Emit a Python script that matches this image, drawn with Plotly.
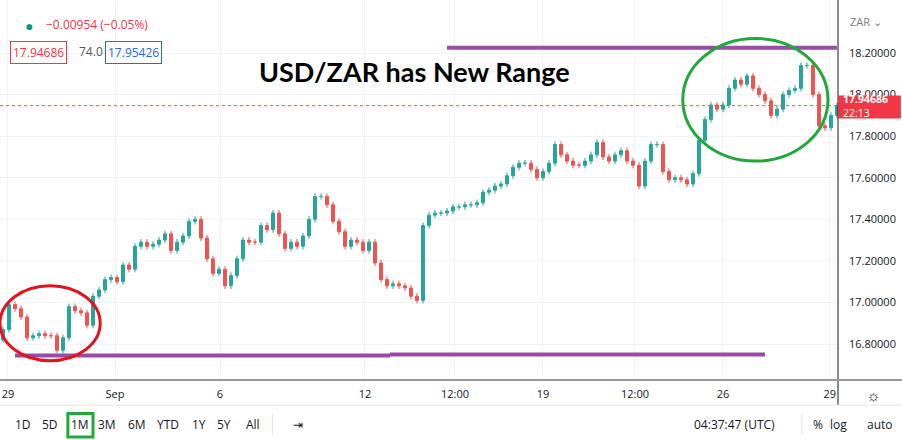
import plotly.graph_objects as go

# closes, one candle every ~6px
closes = [16.87, 16.99, 16.97, 16.93, 16.83, 16.84, 16.85, 16.84, 16.84, 16.77,
          16.83, 16.98, 16.96, 16.95, 16.89, 17.03, 17.06, 17.11, 17.12, 17.10,
          17.18, 17.16, 17.27, 17.29, 17.27, 17.28, 17.30, 17.33, 17.25, 17.29,
          17.32, 17.39, 17.40, 17.31, 17.21, 17.14, 17.16, 17.08, 17.13, 17.21,
          17.30, 17.29, 17.29, 17.37, 17.35, 17.43, 17.33, 17.26, 17.29, 17.27,
          17.32, 17.40, 17.51, 17.51, 17.47, 17.39, 17.34, 17.27, 17.30, 17.29,
          17.25, 17.29, 17.19, 17.11, 17.08, 17.09, 17.08, 17.07, 17.03, 17.01,
          17.37, 17.42, 17.43, 17.43, 17.44, 17.46, 17.46, 17.47, 17.47, 17.48,
          17.53, 17.54, 17.56, 17.57, 17.61, 17.65, 17.67, 17.67, 17.64, 17.60,
          17.63, 17.67, 17.76, 17.71, 17.68, 17.66, 17.66, 17.68, 17.71, 17.77,
          17.70, 17.68, 17.71, 17.73, 17.68, 17.66, 17.56, 17.68, 17.76, 17.76,
          17.63, 17.59, 17.60, 17.59, 17.57, 17.62, 17.78, 17.88, 17.95, 17.93,
          17.95, 18.03, 18.07, 18.05, 18.09, 18.03, 18.00, 17.97, 17.90, 17.93,
          18.00, 18.02, 18.03, 18.14, 18.14, 18.00, 17.85, 17.84, 17.90, 17.94686]
first_open = 16.82
wick = 0.015

tick_pos = [0.83, 18.67, 36.17, 60.33, 75.33, 90, 105.33, 120, 137.8]
tick_text = ["29", "Sep", "6", "12", "12:00", "19", "12:00", "26", "29"]
price_ticks = [16.8, 17.0, 17.2, 17.4, 17.6, 17.8, 18.0, 18.2]
last_price = 17.94686

# drawn range lines: (x0, x1, y)
range_lines = [(74, 139, 18.225), (2, 64.5, 16.745), (64.5, 127, 16.75)]

x = list(range(len(closes)))
opens = [first_open] + closes[:-1]
highs = [max(o, c) + wick for o, c in zip(opens, closes)]
lows = [min(o, c) - wick for o, c in zip(opens, closes)]

fig = go.Figure(go.Candlestick(
    x=x, open=opens, high=highs, low=lows, close=closes,
    increasing=dict(line=dict(color="#26a69a", width=1), fillcolor="#26a69a"),
    decreasing=dict(line=dict(color="#ef5350", width=1), fillcolor="#ef5350"),
    whiskerwidth=0, showlegend=False, hoverinfo="skip"))

shapes = []
for x0, x1, y in range_lines:
    shapes.append(dict(type="line", xref="x", yref="y", x0=x0, x1=x1, y0=y, y1=y,
                       line=dict(color="#9a4ba6", width=4)))
shapes += [
    dict(type="line", xref="paper", yref="y", x0=0, x1=1, y0=last_price, y1=last_price,
         line=dict(color="#ef5350", width=1, dash="dot")),
    dict(type="circle", xref="x", yref="y", x0=-0.5, x1=16.2, y0=16.72, y1=17.08,
         line=dict(color="#e0141e", width=3)),
    dict(type="circle", xref="x", yref="y", x0=113.3, x1=137.5, y0=17.68, y1=18.27,
         line=dict(color="#22a83a", width=3)),
    dict(type="line", xref="paper", yref="paper", x0=1, x1=1, y0=-0.066, y1=1,
         line=dict(color="#131722", width=1)),
    dict(type="line", xref="paper", yref="paper", x0=0, x1=1.077, y0=0, y1=0,
         line=dict(color="#9598a1", width=2)),
    dict(type="line", xref="paper", yref="paper", x0=0, x1=1.077, y0=-0.066, y1=-0.066,
         line=dict(color="#e0e3eb", width=1)),
    dict(type="line", xref="paper", yref="paper", x0=0.325, x1=0.325, y0=-0.09, y1=-0.145,
         line=dict(color="#e0e3eb", width=1)),
    dict(type="line", xref="paper", yref="paper", x0=0.957, x1=0.957, y0=-0.09, y1=-0.145,
         line=dict(color="#e0e3eb", width=1)),
    dict(type="rect", xref="paper", yref="y", x0=1.0, x1=1.075, y0=17.885, y1=17.995,
         fillcolor="#f23645", line=dict(width=0)),
    dict(type="rect", xref="paper", yref="paper", x0=0.081, x1=0.111, y0=-0.088, y1=-0.15,
         fillcolor="rgba(0,0,0,0)", line=dict(color="#22a83a", width=3)),
]

ann = [
    dict(x=0.495, y=18.11, xref="paper", yref="y", text="<b>USD/ZAR has New Range</b>",
         showarrow=False, font=dict(size=27, color="#000", family="Lato")),
    dict(x=0.027, y=0.962, xref="paper", yref="paper", text="●", showarrow=False,
         font=dict(size=14, color="#089981")),
    dict(x=0.052, y=0.962, xref="paper", yref="paper", text="−0.00954 (−0.05%)",
         xanchor="left", showarrow=False, font=dict(size=12, color="#f23645")),
    dict(x=0.012, y=0.892, xref="paper", yref="paper", text="17.94686", xanchor="left",
         showarrow=False, font=dict(size=12, color="#f23645"), bordercolor="#f23645",
         borderwidth=1, borderpad=2),
    dict(x=0.092, y=0.892, xref="paper", yref="paper", text="74.0", xanchor="left",
         showarrow=False, font=dict(size=12, color="#555")),
    dict(x=0.125, y=0.892, xref="paper", yref="paper", text="17.95426", xanchor="left",
         showarrow=False, font=dict(size=12, color="#2962ff"), bordercolor="#2962ff",
         borderwidth=1, borderpad=2),
    dict(x=1.012, y=0.968, xref="paper", yref="paper", text="ZAR ⌄", xanchor="left",
         showarrow=False, font=dict(size=11, color="#787b86")),
    dict(x=1.003, y=last_price, xref="paper", yref="y", text="<b>17.94686</b><br>22:13",
         xanchor="left", showarrow=False, align="left",
         font=dict(size=10.5, color="#fff")),
    dict(x=1.042, y=-0.04, xref="paper", yref="paper", text="☼", showarrow=False,
         xanchor="center", yanchor="middle", font=dict(size=16, color="#131722")),
]
tools = [("1D", 0.027), ("5D", 0.06), ("1M", 0.096), ("3M", 0.128), ("6M", 0.163),
         ("YTD", 0.2), ("1Y", 0.237), ("5Y", 0.267), ("All", 0.302), ("⇥", 0.356),
         ("04:37:47 (UTC)", 0.877), ("%", 0.976), ("log", 1.0), ("auto", 1.05)]
for t, px in tools:
    ann.append(dict(x=px, y=-0.118, xref="paper", yref="paper", text=t, showarrow=False,
                    xanchor="center", yanchor="middle",
                    font=dict(size=12, color="#131722")))

fig.update_layout(
    width=902, height=440, margin=dict(l=0, r=64, t=0, b=60),
    paper_bgcolor="#fff", plot_bgcolor="#fff",
    font=dict(family="Open Sans", size=11, color="#131722"),
    shapes=shapes, annotations=ann,
    xaxis=dict(range=[-0.5, 139.17], tickvals=tick_pos, ticktext=tick_text,
               showgrid=True, gridcolor="#f0f3fa", zeroline=False, fixedrange=True,
               rangeslider=dict(visible=False), tickfont=dict(size=11, color="#131722"),
               ticks="", ticklabelstandoff=6),
    yaxis=dict(range=[16.627, 18.455], side="right", tickvals=price_ticks,
               tickformat=".5f", showgrid=True, gridcolor="#f0f3fa", zeroline=False,
               tickfont=dict(size=11, color="#131722"), ticks="", ticklabelstandoff=10),
)

fig.write_html("out.html", config={"displayModeBar": False},
               post_script="document.body.style.margin='0';")
